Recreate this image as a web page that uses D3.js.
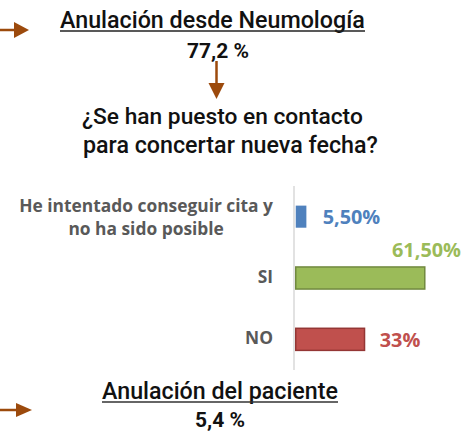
<!DOCTYPE html>
<html><head><meta charset="utf-8">
<script src="https://cdn.jsdelivr.net/npm/d3@7"></script>
<style>
html,body{margin:0;padding:0;background:#fff;}
svg{display:block;}
</style></head>
<body>
<svg id="chart" width="465" height="431"></svg>
<script>
const categories = ["He intentado conseguir cita y\nno ha sido posible", "SI", "NO"];
const values = [5.5, 61.5, 33];
const valueLabels = ["5,50%", "61,50%", "33%"];
const fills = ["#4f81bd", "#9bbb59", "#c0504d"];
const strokes = ["#4f81bd", "#71893f", "#943634"];
const titleTop = "Anulación desde Neumología";
const pctTop = "77,2 %";
const question = ["¿Se han puesto en contacto", "para concertar nueva fecha?"];
const titleBottom = "Anulación del paciente";
const pctBottom = "5,4 %";

const svg = d3.select("#chart");
const arrowColor = "#9c4a0c";
const titleFont = "Roboto, 'DejaVu Sans', sans-serif";
const barFont = "'Open Sans', 'Liberation Sans', sans-serif";

function fitSize(sel, w){
  const len = sel.node().getComputedTextLength();
  const fs = parseFloat(sel.attr("font-size"));
  return fs * w / len;
}
function fitText(sel, w){ sel.attr("font-size", fitSize(sel, w)); }

function hArrow(x0, x1, y, head, half){
  svg.append("line").attr("x1", x0).attr("x2", x1 - head + 1).attr("y1", y).attr("y2", y)
    .attr("stroke", arrowColor).attr("stroke-width", 2.5);
  svg.append("path").attr("d", `M${x1 - head},${y - half}L${x1},${y}L${x1 - head},${y + half}Z`).attr("fill", arrowColor);
}
function vArrow(x, y0, y1, head, half){
  svg.append("line").attr("x1", x).attr("x2", x).attr("y1", y0).attr("y2", y1 - head + 1)
    .attr("stroke", arrowColor).attr("stroke-width", 2.5);
  svg.append("path").attr("d", `M${x - half},${y1 - head}L${x},${y1}L${x + half},${y1 - head}Z`).attr("fill", arrowColor);
}

// Top block
hArrow(0, 29, 30, 15, 8);
let t = svg.append("text").attr("x", 60).attr("y", 28).attr("font-family", titleFont)
  .attr("font-weight", 500).attr("font-size", 21).attr("fill", "#111").text(titleTop);
fitText(t, 305);
svg.append("line").attr("x1", 60).attr("x2", 365).attr("y1", 31).attr("y2", 31).attr("stroke", "#222").attr("stroke-width", 1.3);
svg.append("text").attr("x", 218).attr("y", 58).attr("text-anchor", "middle").attr("font-family", titleFont)
  .attr("font-weight", "bold").attr("font-size", 21).attr("fill", "#111").text(pctTop);
vArrow(216.5, 61, 99, 16, 8);
const qWidths = [281, 295];
const qX = [82, 83];
question.forEach((q, i) => {
  const tt = svg.append("text").attr("x", qX[i]).attr("y", 124 + i * 29).attr("font-family", titleFont)
    .attr("font-weight", 500).attr("font-size", 21).attr("fill", "#111").text(q);
  fitText(tt, qWidths[i]);
});

// Bar chart
const y = d3.scaleBand().domain(categories).range([186, 370]).paddingInner(0.64).paddingOuter(0.32);
const x = d3.scaleLinear().domain([0, 70]).range([295, 443]);

svg.append("line").attr("x1", 294).attr("x2", 294).attr("y1", 186).attr("y2", 370)
  .attr("stroke", "#d9d9d9").attr("stroke-width", 1.5);

const g = svg.append("g");
g.selectAll("rect").data(values).join("rect")
  .attr("x", x(0) + 0.75)
  .attr("y", (d, i) => y(categories[i]))
  .attr("width", d => x(d) - x(0) - 1)
  .attr("height", y.bandwidth())
  .attr("fill", (d, i) => fills[i])
  .attr("stroke", (d, i) => strokes[i])
  .attr("stroke-width", (d, i) => i === 0 ? 0 : 1.5);

const labelPos = [{dx: 16, dy: 7.5}, {dx: -33, dy: -21.3}, {dx: 15, dy: 8}];
const vals = g.selectAll("text.val").data(values).join("text").attr("class", "val")
  .attr("x", (d, i) => x(d) + labelPos[i].dx)
  .attr("y", (d, i) => y(categories[i]) + y.bandwidth() / 2 + labelPos[i].dy)
  .attr("font-family", barFont).attr("font-weight", "bold").attr("font-size", 17)
  .attr("fill", (d, i) => fills[i]).text((d, i) => valueLabels[i]);
const vfs = fitSize(vals.filter((d, i) => i === 1), 69);
vals.attr("font-size", vfs);

// Category labels: multi-line blocks are centred, block right-aligned to x=273
const labelRight = 273;
categories.forEach((c, i) => {
  const lines = c.split("\n");
  const cy = y(c) + y.bandwidth() / 2;
  const grp = svg.append("g");
  const texts = lines.map((ln, j) => {
    const dy = lines.length > 1 ? (j === 0 ? -5 : 18.3) : 5;
    return grp.append("text").attr("y", cy + dy)
      .attr("text-anchor", "middle").attr("font-family", barFont).attr("font-weight", "bold")
      .attr("font-size", 16).attr("fill", "#595959").text(ln);
  });
  grp.attr("data-n", lines.length);
  categories[i]._texts = texts;
});
// font size fitted to the longest label line
const probe = svg.append("text").attr("font-family", barFont).attr("font-weight", "bold")
  .attr("font-size", 16).text(categories[0].split("\n")[0]);
const cfs = fitSize(probe, 254);
probe.remove();
svg.selectAll("g text[fill='#595959']").attr("font-size", cfs);
svg.selectAll("g[data-n]").each(function(){
  const texts = d3.select(this).selectAll("text");
  let maxW = 0;
  texts.each(function(){ maxW = Math.max(maxW, this.getComputedTextLength()); });
  texts.attr("x", labelRight - maxW / 2);
});

// Bottom block
hArrow(0, 32, 410, 16, 7);
t = svg.append("text").attr("x", 102).attr("y", 399).attr("font-family", titleFont)
  .attr("font-weight", 500).attr("font-size", 21).attr("fill", "#111").text(titleBottom);
fitText(t, 236);
svg.append("line").attr("x1", 102).attr("x2", 338).attr("y1", 402).attr("y2", 402).attr("stroke", "#333").attr("stroke-width", 1.3);
svg.append("text").attr("x", 220).attr("y", 427).attr("text-anchor", "middle").attr("font-family", titleFont)
  .attr("font-weight", "bold").attr("font-size", 21).attr("fill", "#111").text(pctBottom);
</script>
</body></html>
